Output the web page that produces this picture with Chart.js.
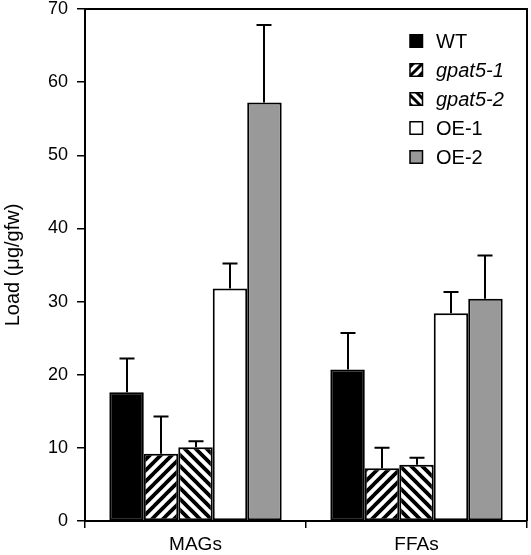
<!DOCTYPE html>
<html><head><meta charset="utf-8">
<script src="https://cdn.jsdelivr.net/npm/chart.js@4.4.0/dist/chart.umd.min.js"></script>
<style>html,body{margin:0;padding:0;background:#fff;overflow:hidden}#wrap{width:531px;height:555px;position:relative}</style>
</head><body><div id="wrap"><canvas id="c" width="531" height="555"></canvas></div>
<script>
const categories = ['MAGs', 'FFAs'];
const seriesNames = ['WT', 'gpat5-1', 'gpat5-2', 'OE-1', 'OE-2'];
const wtValues = [17.6, 20.7];
const gpat51Values = [9.2, 7.2];
const gpat52Values = [10.1, 7.7];
const oe1Values = [31.8, 28.4];
const oe2Values = [57.2, 30.4];
const wtErr = [4.6, 5.0];
const gpat51Err = [5.1, 2.8];
const gpat52Err = [0.8, 0.95];
const oe1Err = [3.4, 2.9];
const oe2Err = [10.6, 5.9];
const yTicks = [0, 10, 20, 30, 40, 50, 60, 70];
const italicSeries = [false, true, true, false, false];

const FONT = '"Liberation Sans", Arial, sans-serif';

function stripePattern(dir, size, lw) {
  const c = document.createElement('canvas');
  c.width = size; c.height = size;
  const g = c.getContext('2d');
  g.fillStyle = '#fff'; g.fillRect(0, 0, size, size);
  g.strokeStyle = '#000'; g.lineWidth = lw; g.lineCap = 'square';
  g.beginPath();
  for (let k = -1; k <= 1; k++) {
    if (dir === '/') { g.moveTo(k * size, size); g.lineTo(k * size + size, 0); }
    else { g.moveTo(k * size, 0); g.lineTo(k * size + size, size); }
  }
  g.stroke();
  return document.getElementById('c').getContext('2d').createPattern(c, 'repeat');
}

const pat1 = stripePattern('/', 11, 3.8);
const pat2 = stripePattern('\\', 11, 3.8);
const pat1s = stripePattern('/', 9, 3);
const pat2s = stripePattern('\\', 9, 3);

const fills = ['#000000', pat1, pat2, '#ffffff', '#999999'];
const legendFills = ['#000000', pat1s, pat2s, '#ffffff', '#999999'];
const values = [wtValues, gpat51Values, gpat52Values, oe1Values, oe2Values];
const errs = [wtErr, gpat51Err, gpat52Err, oe1Err, oe2Err];

const datasets = seriesNames.map((n, i) => ({
  label: n,
  data: values[i],
  errors: errs[i],
  backgroundColor: fills[i],
  borderColor: '#000',
  borderWidth: 2,
  borderSkipped: false,
  categoryPercentage: 0.78,
  barPercentage: 1.0
}));

const errorBars = {
  id: 'errorBars',
  afterDatasetsDraw(chart) {
    const ctx = chart.ctx, y = chart.scales.y;
    ctx.save();
    ctx.strokeStyle = '#000'; ctx.lineWidth = 2;
    chart.data.datasets.forEach((ds, di) => {
      const meta = chart.getDatasetMeta(di);
      meta.data.forEach((bar, j) => {
        const top = y.getPixelForValue(ds.data[j] + ds.errors[j]);
        const x = Math.round(bar.x);
        ctx.beginPath();
        ctx.moveTo(x, bar.y); ctx.lineTo(x, top);
        ctx.moveTo(x - 7.5, top); ctx.lineTo(x + 7.5, top);
        ctx.stroke();
      });
    });
    ctx.restore();
  }
};

const frame = {
  id: 'frame',
  afterDraw(chart) {
    const ctx = chart.ctx, a = chart.chartArea;
    ctx.save();
    ctx.strokeStyle = '#000'; ctx.lineWidth = 2;
    ctx.beginPath();
    ctx.moveTo(a.left, a.top); ctx.lineTo(a.right, a.top); ctx.lineTo(a.right, a.bottom);
    ctx.stroke();
    ctx.restore();
  }
};

const customLegend = {
  id: 'customLegend',
  afterDraw(chart) {
    const ctx = chart.ctx;
    ctx.save();
    const x0 = 410, y0 = 41, step = 29, box = 12.5;
    chart.data.datasets.forEach((ds, i) => {
      const cy = y0 + i * step;
      ctx.fillStyle = legendFills[i];
      ctx.fillRect(x0, cy - box / 2, box, box);
      ctx.strokeStyle = '#000'; ctx.lineWidth = 1.5;
      ctx.strokeRect(x0, cy - box / 2, box, box);
      ctx.fillStyle = '#000';
      ctx.font = (italicSeries[i] ? 'italic ' : '') + '20px ' + FONT;
      ctx.textBaseline = 'middle';
      ctx.textAlign = 'left';
      ctx.fillText(ds.label, 436, cy + 1);
    });
    ctx.restore();
  }
};

new Chart(document.getElementById('c'), {
  type: 'bar',
  data: { labels: categories, datasets },
  plugins: [errorBars, frame, customLegend],
  options: {
    responsive: false,
    animation: false,
    devicePixelRatio: 1,
    layout: { padding: { top: 0, right: 4, left: 0, bottom: 0 } },
    plugins: { legend: { display: false }, tooltip: { enabled: false } },
    scales: {
      x: {
        grid: { drawOnChartArea: false, drawTicks: true, tickLength: 7, color: '#000', lineWidth: 1.5, offset: true },
        border: { display: true, color: '#000', width: 2 },
        ticks: { color: '#000', font: { family: FONT, size: 19 }, padding: 5 },
        afterFit(s) { s.height = 34; }
      },
      y: {
        min: 0, max: 70,
        afterBuildTicks(s) { s.ticks = yTicks.map(v => ({ value: v })); },
        grid: { drawOnChartArea: false, drawTicks: true, tickLength: 8, color: '#000', lineWidth: 1.5 },
        border: { display: true, color: '#000', width: 2 },
        ticks: { color: '#000', font: { family: FONT, size: 18, lineHeight: 0 }, padding: 9 },
        title: { display: true, text: 'Load (μg/gfw)', color: '#000', font: { family: FONT, size: 20 }, padding: { top: 1, bottom: 0 } },
        afterFit(s) { s.width = 85; }
      }
    }
  }
});
</script>
</body></html>
